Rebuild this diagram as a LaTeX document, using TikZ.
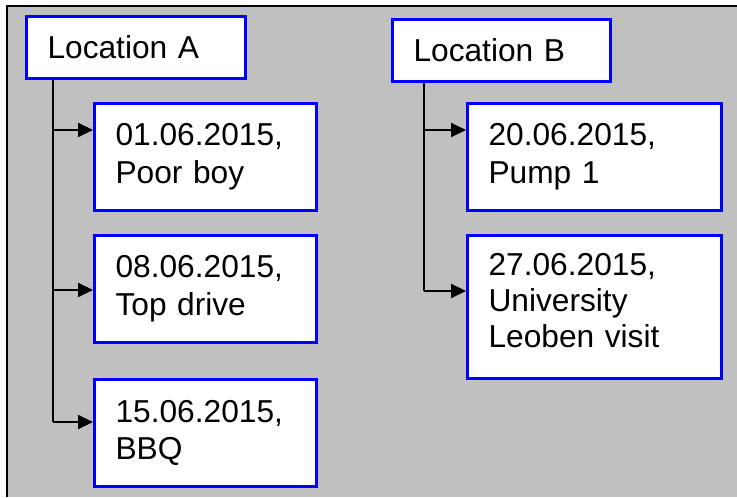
\documentclass[tikz,border=0pt]{standalone}
\usepackage{fontspec}
\setmainfont{Liberation Sans}
\usetikzlibrary{arrows.meta}
\definecolor{panelgray}{RGB}{192,192,192}
\definecolor{boxblue}{RGB}{0,0,255}
\begin{document}
\begin{tikzpicture}[x=0.5pt,y=-0.5pt,
  every node/.style={font=\fontsize{15.85}{18.8}\selectfont},
  eventbox/.style={draw=boxblue,line width=1.5pt,fill=white,
    inner xsep=10.5pt,inner ysep=0pt,align=left,anchor=center},
  conn/.style={line width=1pt,-{Triangle[length=7.5pt,width=7pt]}},
  trunk/.style={line width=1pt}]
  % canvas and grey panel with its frame
  \useasboundingbox (0,0) rectangle (737,497);
  \fill[white] (0,0) rectangle (737,497);
  \fill[panelgray] (7,6) rectangle (737,497);
  \draw[line width=1.25pt] (7,497) -- (7,6) -- (737,6);

  % location headers
  \node[eventbox,minimum width=109.5pt,minimum height=31pt,text width=88.5pt]
    (locA) at (136,47.5) {Location A};
  \node[eventbox,minimum width=109pt,minimum height=31pt,text width=88pt]
    (locB) at (501.5,50.5) {Location B};

  % events at location A
  \node[eventbox,minimum width=111pt,minimum height=53.5pt,text width=90pt]
    (a1) at (205.5,157) {01.06.2015,\\Poor boy};
  \node[eventbox,minimum width=111pt,minimum height=53.5pt,text width=90pt]
    (a2) at (205.5,289) {08.06.2015,\\Top drive};
  \node[eventbox,minimum width=111pt,minimum height=53.5pt,text width=90pt]
    (a3) at (205.5,433) {15.06.2015,\\BBQ};

  % events at location B
  \node[eventbox,minimum width=127pt,minimum height=53.5pt,text width=106pt]
    (b1) at (594.5,157) {20.06.2015,\\Pump 1};
  \node[eventbox,minimum width=127pt,minimum height=71.5pt,text width=106pt,
    font=\fontsize{15.85}{18}\selectfont]
    (b2) at (594.5,307) {27.06.2015,\\University\\Leoben visit\rule[-6.5pt]{0pt}{0pt}};

  % branch points on the trunks
  \coordinate (ja1) at (53,130);
  \coordinate (ja2) at (53,290);
  \coordinate (ja3) at (53,422);
  \coordinate (jb1) at (424,130);
  \coordinate (jb2) at (424,291);

  % connectors
  \draw[trunk] (locA.south -| ja3) -- (ja3);
  \draw[conn] (ja1) -- (a1.west |- ja1);
  \draw[conn] (ja2) -- (a2.west |- ja2);
  \draw[conn] (ja3) -- (a3.west |- ja3);
  \draw[trunk] (locB.south -| jb2) -- (jb2);
  \draw[conn] (jb1) -- (b1.west |- jb1);
  \draw[conn] (jb2) -- (b2.west |- jb2);
\end{tikzpicture}
\end{document}
